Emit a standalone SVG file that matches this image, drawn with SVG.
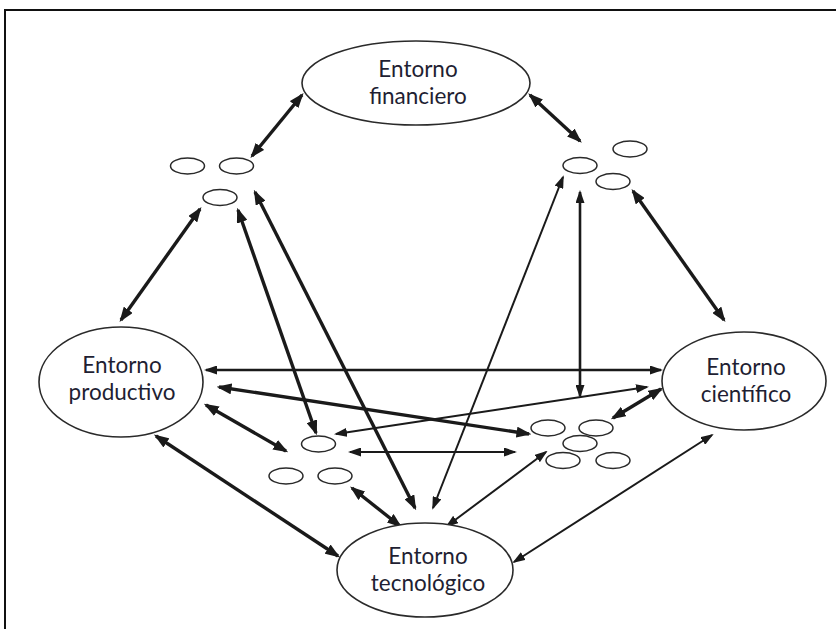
<svg xmlns="http://www.w3.org/2000/svg" width="836" height="629" viewBox="0 0 836 629">
<style>
.frame{fill:none;stroke:#111;stroke-width:2}
.big{fill:#fff;stroke:#2a2a2a;stroke-width:1.6}
.small{fill:#fff;stroke:#2a2a2a;stroke-width:1.5}
.lbl{font-family:Lato,"Open Sans","Liberation Sans",sans-serif;font-size:22.5px;fill:#1f1f33;text-anchor:middle}
.thick{stroke:#1a1a1a;stroke-width:3.4;fill:none;marker-start:url(#ahT);marker-end:url(#ahT)}
.thin{stroke:#1a1a1a;stroke-width:2;fill:none;marker-start:url(#ahS);marker-end:url(#ahS)}
.mid{stroke:#1a1a1a;stroke-width:2.6;fill:none;marker-start:url(#ahS);marker-end:url(#ahS)}
</style>
<defs>
<marker id="ahT" viewBox="0 0 15 11" refX="12.5" refY="5.5" markerWidth="15" markerHeight="11" markerUnits="userSpaceOnUse" orient="auto-start-reverse"><path d="M0,0 L15,5.5 L0,11 z" fill="#1a1a1a"/></marker>
<marker id="ahS" viewBox="0 0 13 9" refX="11" refY="4.5" markerWidth="13" markerHeight="9" markerUnits="userSpaceOnUse" orient="auto-start-reverse"><path d="M0,0 L13,4.5 L0,9 z" fill="#1a1a1a"/></marker>
</defs>
<rect width="836" height="629" fill="#fff"/>
<path class="frame" d="M5,629 V10 H836"/>
<g id="connectors">
<line class="thick" x1="302" y1="95" x2="252" y2="156"/>
<line class="thick" x1="530" y1="95" x2="580" y2="141"/>
<line class="thick" x1="200" y1="209" x2="121" y2="320"/>
<line class="thick" x1="238" y1="210" x2="316" y2="433"/>
<line class="thick" x1="255" y1="192" x2="415" y2="508"/>
<line class="thick" x1="633" y1="191" x2="724" y2="320"/>
<line class="thick" x1="219" y1="387" x2="529" y2="434"/>
<line class="thick" x1="206" y1="405" x2="286" y2="451"/>
<line class="thick" x1="156" y1="436" x2="338" y2="556"/>
<line class="thick" x1="352" y1="488" x2="400" y2="526"/>
<line class="thick" x1="613" y1="418" x2="661" y2="389"/>
<line class="thin" x1="563" y1="177" x2="433" y2="508"/>
<line class="mid" x1="580" y1="192" x2="580" y2="396"/>
<line class="mid" x1="206" y1="370" x2="661" y2="370"/>
<line class="thin" x1="336" y1="434" x2="647" y2="387"/>
<line class="thin" x1="350" y1="452" x2="515" y2="452"/>
<line class="thin" x1="546" y1="452" x2="447" y2="526"/>
<line class="thin" x1="712" y1="435" x2="514" y2="562"/>
</g>
<g id="financiero">
<ellipse class="big" cx="416" cy="83" rx="114" ry="42"/>
<text class="lbl" x="418" y="77">Entorno</text>
<text class="lbl" x="418" y="104">financiero</text>
</g>
<g id="productivo">
<ellipse class="big" cx="121" cy="382" rx="82" ry="55"/>
<text class="lbl" x="122" y="373">Entorno</text>
<text class="lbl" x="122" y="400">productivo</text>
</g>
<g id="cientifico">
<ellipse class="big" cx="744" cy="381" rx="82" ry="49"/>
<text class="lbl" x="746" y="375">Entorno</text>
<text class="lbl" x="746" y="402">científico</text>
</g>
<g id="tecnologico">
<ellipse class="big" cx="425" cy="570" rx="88" ry="47"/>
<text class="lbl" x="428" y="564">Entorno</text>
<text class="lbl" x="428" y="591">tecnológico</text>
</g>
<g id="cluster-a">
<ellipse class="small" cx="187.5" cy="166" rx="17" ry="8"/>
<ellipse class="small" cx="236.5" cy="166" rx="17" ry="8"/>
<ellipse class="small" cx="220" cy="197.5" rx="17" ry="8"/>
</g>
<g id="cluster-b">
<ellipse class="small" cx="630" cy="149" rx="17" ry="8"/>
<ellipse class="small" cx="580" cy="165.5" rx="17" ry="8"/>
<ellipse class="small" cx="613" cy="181.5" rx="17" ry="8"/>
</g>
<g id="cluster-c">
<ellipse class="small" cx="318.5" cy="444" rx="17" ry="8"/>
<ellipse class="small" cx="286" cy="476" rx="17" ry="8"/>
<ellipse class="small" cx="335" cy="476" rx="17" ry="8"/>
</g>
<g id="cluster-d">
<ellipse class="small" cx="548" cy="428" rx="17" ry="8"/>
<ellipse class="small" cx="596" cy="428" rx="17" ry="8"/>
<ellipse class="small" cx="580" cy="443.5" rx="17" ry="8"/>
<ellipse class="small" cx="563" cy="460.5" rx="17" ry="8"/>
<ellipse class="small" cx="613" cy="460.5" rx="17" ry="8"/>
</g>
</svg>
